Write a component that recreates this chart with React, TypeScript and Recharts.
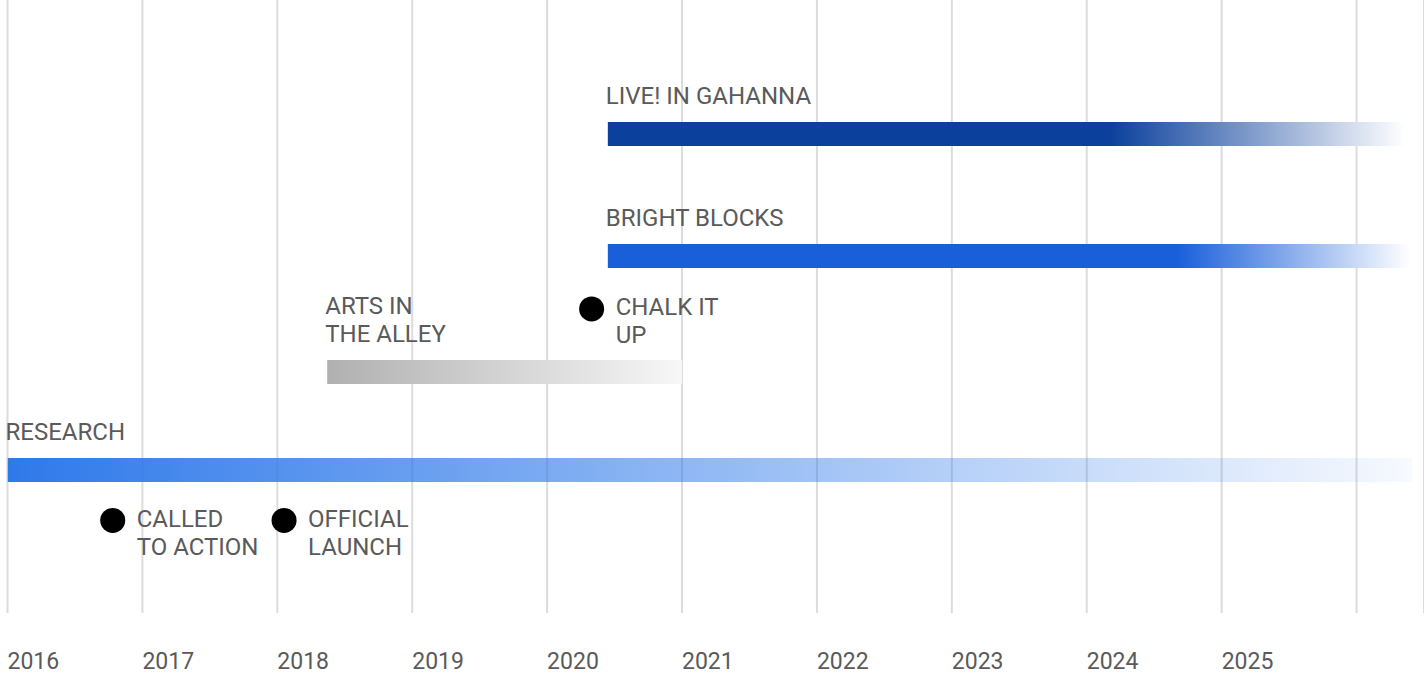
import React from 'react';
import {
    ComposedChart,
    Bar,
    Scatter,
    XAxis,
    YAxis,
    CartesianGrid,
    Cell,
    LabelList
} from 'recharts';

// 期間（バー）
const BAR_NAMES = ['LIVE! IN GAHANNA', 'BRIGHT BLOCKS', 'ARTS IN\nTHE ALLEY', 'RESEARCH'];
const BAR_STARTS = [2020.45, 2020.45, 2018.37, 2016];
const BAR_ENDS = [2026.36, 2026.4, 2021.0, 2026.41];
const BAR_LANES = [2.19, 4.18, 6.07, 7.67];

// 単発のマイルストーン（点）
const MILESTONE_NAMES = ['CHALK IT\nUP', 'CALLED\nTO ACTION', 'OFFICIAL\nLAUNCH'];
const MILESTONE_DATES = [2020.33, 2016.78, 2018.05];
const MILESTONE_LANES = [5.04, 8.49, 8.49];

// 目盛り
const YEAR_TICKS = [2016, 2017, 2018, 2019, 2020, 2021, 2022, 2023, 2024, 2025, 2026];
const YEAR_LABELS = ['2016', '2017', '2018', '2019', '2020', '2021', '2022', '2023', '2024', '2025'];

// バーごとのグラデーション
const GRADIENTS = [
    [{ o: 0, c: '#0b409c', a: 1 }, { o: 0.63, c: '#0b409c', a: 1 }, { o: 1, c: '#ffffff', a: 1 }],
    [{ o: 0, c: '#1a5fda', a: 1 }, { o: 0.71, c: '#1a5fda', a: 1 }, { o: 1, c: '#ffffff', a: 1 }],
    [{ o: 0, c: '#b0b0b0', a: 1 }, { o: 1, c: '#f7f7f7', a: 1 }],
    [{ o: 0, c: '#2e79ea', a: 1 }, { o: 1, c: '#2e79ea', a: 0.04 }],
];

const FONT = 'Roboto, sans-serif';
const TEXT_COLOR = '#5a5a5a';

const bars = BAR_NAMES.map((name, i) => ({
    name,
    lane: BAR_LANES[i],
    range: [BAR_STARTS[i], BAR_ENDS[i]],
}));

const milestones = MILESTONE_NAMES.map((name, i) => ({
    name,
    at: MILESTONE_DATES[i],
    lane: MILESTONE_LANES[i],
}));

const YearTick = (props: any) => {
    const { x, y, payload } = props;
    const idx = YEAR_TICKS.indexOf(payload.value);
    const label = YEAR_LABELS[idx];
    if (!label) return <g />;
    return (
        <text x={x} y={y + 56} fontSize={23} fill={TEXT_COLOR} fontFamily={FONT} textAnchor="start">
            {label}
        </text>
    );
};

const renderBarLabel = (props: any) => {
    const vb = props.viewBox || {};
    const x = props.x ?? vb.x;
    const y = props.y ?? vb.y;
    const lines = String(props.value).split('\n');
    const base = y - 18;
    return (
        <text fontSize={24} fill={TEXT_COLOR} fontFamily={FONT}>
            {lines.map((line, i) => (
                <tspan key={i} x={x - 2} y={base - (lines.length - 1 - i) * 28}>{line}</tspan>
            ))}
        </text>
    );
};

const renderMilestone = (props: any) => {
    const { cx, cy, payload } = props;
    const lines = String(payload.name).split('\n');
    return (
        <g>
            <circle cx={cx} cy={cy} r={12.5} fill="#000" />
            <text fontSize={24} fill={TEXT_COLOR} fontFamily={FONT}>
                {lines.map((line, i) => (
                    <tspan key={i} x={cx + 24} y={cy + 6.5 + i * 28}>{line}</tspan>
                ))}
            </text>
        </g>
    );
};

export default function App() {
    return (
        <div style={{ position: 'absolute', left: 0, top: 0, background: '#fff' }}>
            <ComposedChart
                width={1424}
                height={675}
                layout="vertical"
                data={bars}
                margin={{ top: 0, right: 0, bottom: 0, left: 7.5 }}
            >
                <defs>
                    {GRADIENTS.map((stops, i) => (
                        <linearGradient key={i} id={`bar-grad-${i}`} x1="0" y1="0" x2="1" y2="0">
                            {stops.map((s, j) => (
                                <stop key={j} offset={s.o} stopColor={s.c} stopOpacity={s.a} />
                            ))}
                        </linearGradient>
                    ))}
                </defs>
                <CartesianGrid horizontal={false} stroke="#dcdcdc" strokeWidth={2} />
                <XAxis
                    type="number"
                    dataKey="at"
                    domain={[2016, 2026.5]}
                    allowDataOverflow
                    ticks={YEAR_TICKS}
                    interval={0}
                    axisLine={false}
                    tickLine={false}
                    tickSize={0}
                    tickMargin={0}
                    height={62}
                    tick={<YearTick />}
                />
                <YAxis type="number" dataKey="lane" domain={[0, 10]} hide allowDataOverflow />
                <Bar dataKey="range" barSize={24} isAnimationActive={false}>
                    {bars.map((_b, i) => (
                        <Cell key={`cell-${i}`} fill={`url(#bar-grad-${i})`} />
                    ))}
                    <LabelList dataKey="name" content={renderBarLabel} />
                </Bar>
                <Scatter data={milestones} shape={renderMilestone} isAnimationActive={false} />
            </ComposedChart>
        </div>
    );
}
